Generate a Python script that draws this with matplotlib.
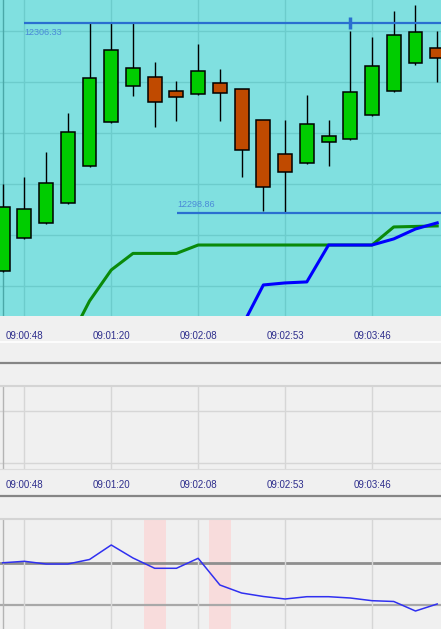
import numpy as np
import matplotlib
matplotlib.use("Agg")
from matplotlib import pyplot as plt

W, H = 441, 629

# candles (one every ~4 candles gets a time label)
opens = [12296.59, 12297.86, 12298.48, 12299.25, 12300.70, 12302.43, 12303.86,
         12304.22, 12303.67, 12303.53, 12303.97, 12303.75, 12302.53, 12301.19,
         12300.82, 12301.65, 12301.78, 12302.72, 12303.66, 12304.75, 12305.36]
highs = [12300.00, 12300.29, 12301.27, 12302.80, 12306.33, 12306.33, 12306.33,
         12304.81, 12304.04, 12305.50, 12304.51, 12303.75, 12302.53, 12302.50,
         12303.49, 12302.50, 12306.02, 12305.79, 12306.80, 12307.03, 12306.02]
lows = [12296.54, 12297.82, 12298.43, 12299.23, 12300.66, 12302.39, 12303.47,
        12302.25, 12302.48, 12303.49, 12302.48, 12300.26, 12298.95, 12298.86,
        12300.80, 12300.72, 12301.73, 12302.69, 12303.61, 12304.67, 12304.00]
closes = [12299.11, 12299.03, 12300.03, 12302.06, 12304.17, 12305.26, 12304.57,
          12303.22, 12303.41, 12304.43, 12303.57, 12301.35, 12299.87, 12300.46,
          12302.35, 12301.87, 12303.62, 12304.63, 12305.87, 12305.96, 12304.94]

# trailing stop style lines (start at candle 3 / 11)
green_line = [12293.75, 12295.40, 12296.62, 12297.27, 12297.27, 12297.27, 12297.60,
              12297.60, 12297.60, 12297.60, 12297.60, 12297.60, 12297.60, 12297.60,
              12297.60, 12298.31, 12298.33, 12298.35]
blue_line = [12294.38, 12296.03, 12296.11, 12296.15, 12297.60, 12297.60, 12297.60,
             12297.84, 12298.23, 12298.47]

high_level = 12306.33
low_level = 12298.86

# lower indicator
osc = [0.1, 0.81, -0.48, -0.48, 1.67, 8.57, 2.38, -2.52, -2.52, 2.24, -10.48,
       -14.29, -15.95, -17.14, -16.05, -16.05, -16.67, -17.95, -18.33, -22.86, -19.52]
osc_levels = [0, -20]
bands = [7, 10]

tick_pos = [1, 5, 9, 13, 17]
tick_labels = ['09:00:48', '09:01:20', '09:02:08', '09:02:53', '09:03:46']

n = len(opens)
x = np.arange(n)
xlim = (-0.12, 20.175)


def rect(top, bottom):
    return [0, 1 - bottom / H, 1, (bottom - top) / H]


fig = plt.figure(figsize=(W / 100, H / 100), dpi=100, facecolor='#f0f0f0')
tick_font = dict(family='Liberation Sans', size=7, color='#2d2d8c')

# ---- main price pane ----
ax = fig.add_axes(rect(0, 316))
ax.set_facecolor('#80e0e0')
ax.set_xlim(*xlim)
ax.set_ylim(12294.81, 12307.23)
ax.set_yticks(np.arange(12296, 12307, 2))
ax.set_xticks(tick_pos)
ax.set_xticklabels(tick_labels, **tick_font)
ax.tick_params(length=0, labelleft=False, pad=11)
ax.grid(True, color='#6ccccc', lw=1)
ax.axvline(0.03, color='#4aa8a8', lw=1)
for s in ax.spines.values():
    s.set_visible(False)

up = [c >= o for o, c in zip(opens, closes)]
cols = ['#00cc00' if u else '#c04a00' for u in up]
ax.vlines(x, lows, highs, color='black', lw=1, zorder=3)
ax.bar(x, np.abs(np.array(closes) - np.array(opens)), bottom=np.minimum(opens, closes),
       width=0.64, color=cols, edgecolor='black', lw=1.1, zorder=4)

ax.plot(x[3:], green_line, color='#0a8a0a', lw=2.2, zorder=5)
ax.plot(x[11:], blue_line, color='#0000ff', lw=2.2, zorder=5)

ax.hlines(high_level, 1, xlim[1], color='#2a6fd0', lw=1.6, zorder=6)
ax.hlines(low_level, 8.03, xlim[1], color='#2a6fd0', lw=1.6, zorder=6)
ax.plot([16], [high_level], marker='|', ms=8, mew=2.5, color='#2a6fd0', zorder=6)
ax.text(1, high_level - 0.2, f'{high_level:.2f}', fontsize=6.5, family='Liberation Sans',
        color='#4a8ad8', va='top', ha='left')
ax.text(8.03, low_level + 0.15, f'{low_level:.2f}', fontsize=6.5, family='Liberation Sans',
        color='#4a8ad8', va='bottom', ha='left')

# separators
fig.add_artist(plt.Line2D([0, 1], [1 - 342 / H] * 2, color='white', lw=1.2))
fig.add_artist(plt.Line2D([0, 1], [1 - 363 / H] * 2, color='#858585', lw=1.6))
fig.add_artist(plt.Line2D([0, 1], [1 - 496 / H] * 2, color='#858585', lw=1.6))

# ---- empty middle pane ----
ax2 = fig.add_axes(rect(386, 469))
ax2.set_facecolor('#f0f0f0')
ax2.set_xlim(*xlim)
ax2.set_ylim(0, 83)
ax2.set_xticks(tick_pos)
ax2.set_xticklabels(tick_labels, **tick_font)
ax2.set_yticks([6, 58])
ax2.tick_params(length=0, labelleft=False, pad=8)
ax2.grid(True, color='#d6d6d6', lw=1)
ax2.axvline(0.03, color='#b4b4b4', lw=1)
for s in ax2.spines.values():
    s.set_visible(False)
ax2.spines['top'].set_visible(True)
ax2.spines['top'].set_color('#d4d4d4')
ax2.spines['top'].set_linewidth(1.5)
ax2.spines['bottom'].set_visible(True)
ax2.spines['bottom'].set_color('#dcdcdc')

# ---- oscillator pane ----
ax3 = fig.add_axes(rect(519, 629))
ax3.set_facecolor('#f0f0f0')
ax3.set_xlim(*xlim)
ax3.set_ylim(-31.43, 20.95)
ax3.set_xticks(tick_pos)
ax3.set_yticks([])
ax3.tick_params(length=0, labelbottom=False)
ax3.grid(True, axis='x', color='#d6d6d6', lw=1)
ax3.axvline(0.03, color='#b4b4b4', lw=1)
for b in bands:
    ax3.axvspan(b - 0.5, b + 0.5, color='#f8dcdc', lw=0, zorder=0.5)
ax3.axhline(osc_levels[0], color='#8e8e8e', lw=2, zorder=1)
ax3.axhline(osc_levels[1], color='#a8a8a8', lw=1.6, zorder=1)
ax3.plot(x, osc, color='#3030f0', lw=1.1, zorder=3)
for s in ax3.spines.values():
    s.set_visible(False)
ax3.spines['top'].set_visible(True)
ax3.spines['top'].set_color('#d4d4d4')
ax3.spines['top'].set_linewidth(1.5)

fig.savefig('out.png', dpi=100, facecolor=fig.get_facecolor())
